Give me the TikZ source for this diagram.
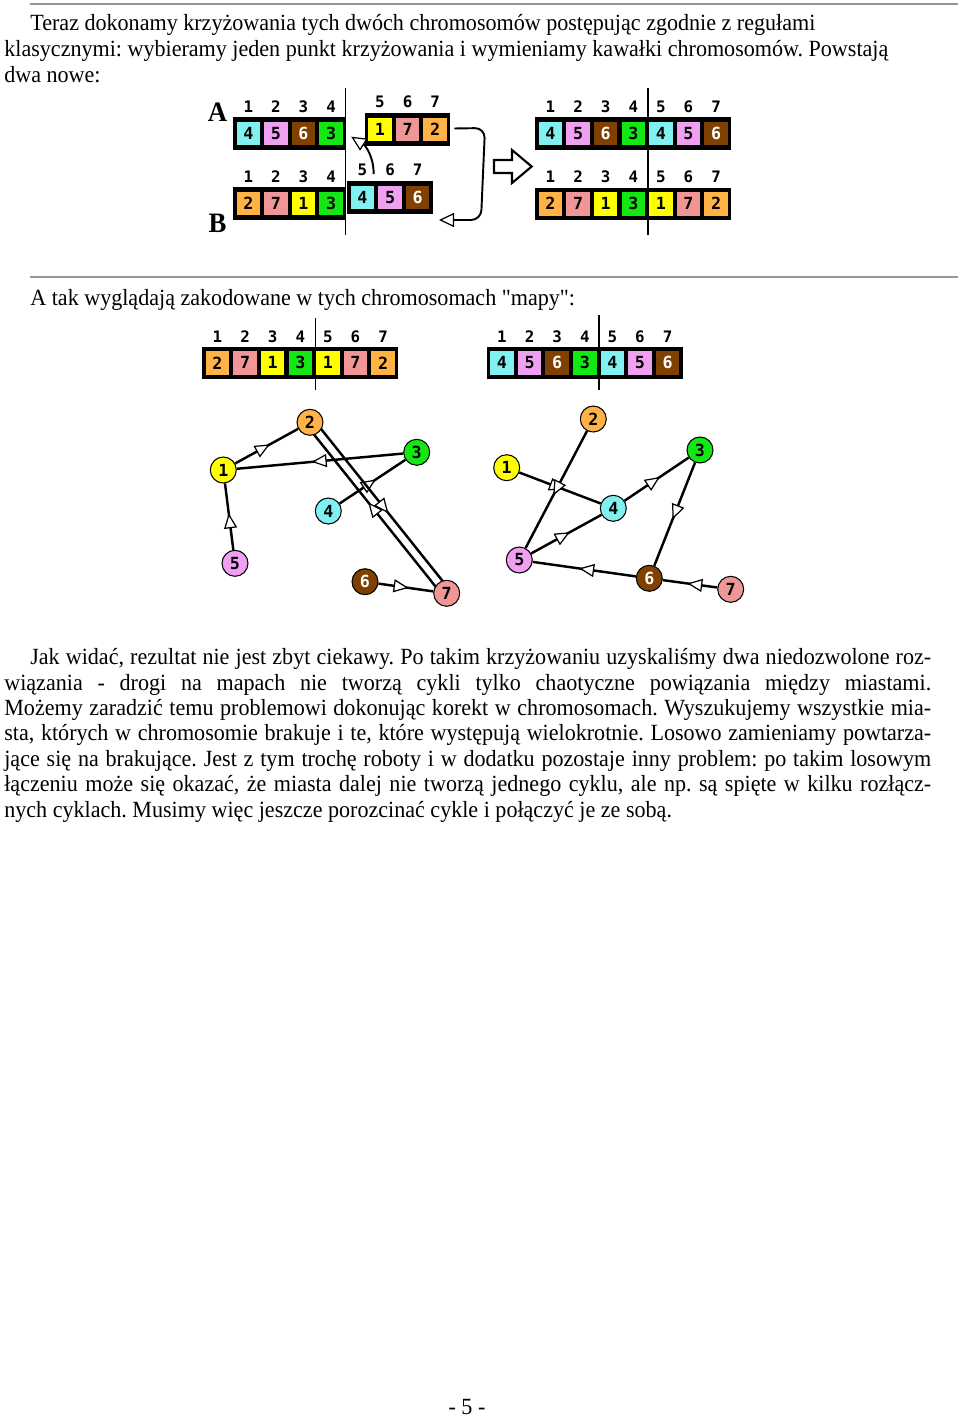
\documentclass[tikz,border=0pt]{standalone}
\usepackage{fontspec}
\setmainfont{Liberation Serif}[Ligatures=TeXOff, FakeStretch=0.952]
\newfontfamily\genefont{DejaVu Sans Mono}
\usetikzlibrary{arrows.meta,decorations.markings,backgrounds,calc}
\frenchspacing

\definecolor{c1}{RGB}{255,255,0}
\definecolor{c2}{RGB}{255,178,70}
\definecolor{c3}{RGB}{20,232,20}
\definecolor{c4}{RGB}{128,240,240}
\definecolor{c5}{RGB}{240,160,240}
\definecolor{c6}{RGB}{128,64,0}
\definecolor{c7}{RGB}{240,150,150}
\colorlet{t1}{black}
\colorlet{t2}{black}
\colorlet{t3}{black}
\colorlet{t4}{black}
\colorlet{t5}{black}
\colorlet{t6}{white}
\colorlet{t7}{black}
\definecolor{rulegray}{RGB}{150,150,150}

\begin{document}
\begin{tikzpicture}[
x=0.02cm, y=-0.02cm,
every node/.style={inner sep=0pt},
txt/.style={font=\fontsize{13.2pt}{14.5pt}\selectfont, anchor=base west},
rule/.style={draw=rulegray, line width=1.7pt},
chbox/.style={fill=black},
cell/.style={minimum size=0.47cm, fill=c#1, text=t#1,
    font=\genefont\bfseries\fontsize{9.5pt}{9.5pt}\selectfont},
idx/.style={font=\genefont\bfseries\fontsize{9pt}{9pt}\selectfont},
cut/.style={draw, line width=0.6pt},
letter/.style={font=\bfseries\fontsize{16pt}{16pt}\selectfont},
swap/.style={draw, line width=1.1pt,
    arrows={-Triangle[fill=white, line width=0.7pt, length=0.3cm, width=0.28cm]}},
bigarrow/.style={draw, fill=white, line width=1.2pt, line join=miter},
city/.style={circle, draw, line width=0.6pt, minimum size=0.52cm, fill=c#1, text=t#1,
    font=\genefont\bfseries\fontsize{9.5pt}{9.5pt}\selectfont},
road/.style={draw, line width=1.4pt, postaction={decorate},
    decoration={markings, mark=at position 0.55 with
    {\arrow{Triangle[fill=white, line width=0.7pt, length=0.3cm, width=0.26cm]}}}}
]
\useasboundingbox (0,0) rectangle (960,1417);

% =====================================================
% Text
% =====================================================

\draw[rule] (30,4) -- (958,4);

\node[txt] (par1a) at (30,30) {Teraz dokonamy krzyżowania tych dwóch chromosomów postępując zgodnie z regułami};
\node[txt] (par1b) at (4,56) {klasycznymi: wybieramy jeden punkt krzyżowania i wymieniamy kawałki chromosomów. Powstają};
\node[txt] (par1c) at (4,82) {dwa nowe:};

\draw[rule] (30,277) -- (958,277);

\node[txt] (par2) at (30,305) {A tak wyglądają zakodowane w tych chromosomach "mapy":};

\node[txt] (par3a) at (30,664) {\makebox[18.02cm][s]{Jak widać, rezultat nie jest zbyt ciekawy. Po takim krzyżowaniu uzyskaliśmy dwa niedozwolone roz-}};
\node[txt] (par3b) at (4,690) {\makebox[18.54cm][s]{wiązania - drogi na mapach nie tworzą cykli tylko chaotyczne powiązania między miastami.}};
\node[txt] (par3c) at (4,715) {\makebox[18.54cm][s]{Możemy zaradzić temu problemowi dokonując korekt w chromosomach. Wyszukujemy wszystkie mia-}};
\node[txt] (par3d) at (4,740) {\makebox[18.54cm][s]{sta, których w chromosomie brakuje i te, które występują wielokrotnie. Losowo zamieniamy powtarza-}};
\node[txt] (par3e) at (4,766) {\makebox[18.54cm][s]{jące się na brakujące. Jest z tym trochę roboty i w dodatku pozostaje inny problem: po takim losowym}};
\node[txt] (par3f) at (4,791) {\makebox[18.54cm][s]{łączeniu może się okazać, że miasta dalej nie tworzą jednego cyklu, ale np. są spięte w kilku rozłącz-}};
\node[txt] (par3g) at (4,817) {nych cyklach. Musimy więc jeszcze porozcinać cykle i połączyć je ze sobą.};

\node[txt, anchor=base] (pagenum) at (467,1414) {- 5 -};

% =====================================================
% Crossover
% =====================================================

\node[letter] (labA) at (217.5,112.5) {A};
\node[letter] (labB) at (217.5,223.5) {B};

% parent A
\fill[chbox] (233,117.4) rectangle (346.3,150);
\foreach \v [count=\i] in {4,5,6,3}
  \node[cell=\v] (A\i) at ({248.3+(\i-1)*27.6},133.7) {\v};
\foreach \i in {1,...,4}
  \node[idx] (Ai\i) at ({248.3+(\i-1)*27.6},106.7) {\i};

\fill[chbox] (364.8,113.2) rectangle (450.4,145.8);
\foreach \v [count=\i from 5] in {1,7,2}
  \node[cell=\v] (A\i) at ({380+(\i-5)*27.6},129.5) {\v};
\foreach \i in {5,6,7}
  \node[idx] (Ai\i) at ({380+(\i-5)*27.6},101.7) {\i};

% parent B
\fill[chbox] (233,187) rectangle (346.3,219.6);
\foreach \v [count=\i] in {2,7,1,3}
  \node[cell=\v] (B\i) at ({248.3+(\i-1)*27.6},203.3) {\v};
\foreach \i in {1,...,4}
  \node[idx] (Bi\i) at ({248.3+(\i-1)*27.6},176.7) {\i};

\fill[chbox] (347.3,181.2) rectangle (433,213.8);
\foreach \v [count=\i from 5] in {4,5,6}
  \node[cell=\v] (B\i) at ({362.5+(\i-5)*27.6},197.5) {\v};
\foreach \i in {5,6,7}
  \node[idx] (Bi\i) at ({362.5+(\i-5)*27.6},170) {\i};

\draw[cut] (345.7,88) -- (345.7,235);

% swapping the tails
\coordinate (tailend) at (439,220);
\draw[swap] ($(Bi5.east)+(6,4)$) .. controls (374,158) and (366,146) .. ($(A4.east)+(8,3)$);
\draw[swap, rounded corners=0.2cm] ($(A7.east)+(7,-1)$) -- (485,128) -- (481,220) -- (tailend);

% big arrow
\draw[bigarrow] (494,160) -- (512,160) -- (512,150) -- (531.7,166.5)
  -- (512,183) -- (512,173) -- (494,173) -- cycle;

% children
\fill[chbox] (535.3,117.4) rectangle (731.4,150);
\foreach \v [count=\i] in {4,5,6,3,4,5,6}
  \node[cell=\v] (X\i) at ({550.5+(\i-1)*27.6},133.7) {\v};
\foreach \i in {1,...,7}
  \node[idx] (Xi\i) at ({550.5+(\i-1)*27.6},106.7) {\i};

\fill[chbox] (535.3,187.5) rectangle (731.4,220.1);
\foreach \v [count=\i] in {2,7,1,3,1,7,2}
  \node[cell=\v] (Y\i) at ({550.5+(\i-1)*27.6},203.8) {\v};
\foreach \i in {1,...,7}
  \node[idx] (Yi\i) at ({550.5+(\i-1)*27.6},177) {\i};

\draw[cut] (648,88) -- (648,235);

% =====================================================
% Maps
% =====================================================

\fill[chbox] (202.3,346.5) rectangle (398.4,379.1);
\foreach \v [count=\i] in {2,7,1,3,1,7,2}
  \node[cell=\v] (mY\i) at ({217.5+(\i-1)*27.6},362.8) {\v};
\foreach \i in {1,...,7}
  \node[idx] (mYi\i) at ({217.5+(\i-1)*27.6},336.7) {\i};
\draw[cut] (315.5,318) -- (315.5,390);

\fill[chbox] (486.8,346.5) rectangle (682.9,379.1);
\foreach \v [count=\i] in {4,5,6,3,4,5,6}
  \node[cell=\v] (mX\i) at ({502+(\i-1)*27.6},362.8) {\v};
\foreach \i in {1,...,7}
  \node[idx] (mXi\i) at ({502+(\i-1)*27.6},336.7) {\i};
\draw[cut] (599,315) -- (599,390);

% cities, left map
\node[city=1] (L1) at (223.3,470) {1};
\node[city=2] (L2) at (310,422.3) {2};
\node[city=3] (L3) at (416.7,452.3) {3};
\node[city=4] (L4) at (328.3,511) {4};
\node[city=5] (L5) at (235,563.3) {5};
\node[city=6] (L6) at (365,581.7) {6};
\node[city=7] (L7) at (446.7,593.3) {7};

% cities, right map
\node[city=1] (R1) at (506.7,467.7) {1};
\node[city=2] (R2) at (593.3,419) {2};
\node[city=3] (R3) at (700,450) {3};
\node[city=4] (R4) at (613.3,508.3) {4};
\node[city=5] (R5) at (519.3,560) {5};
\node[city=6] (R6) at (649.3,578.3) {6};
\node[city=7] (R7) at (730.7,589.3) {7};

\begin{scope}[on background layer]
\fill[white] (0,0) rectangle (960,1417);

% roads, left map
\draw[road] (L1) -- (L2);
\draw[road] (L3) -- (L1);
\draw[road] (L4) -- (L3);
\draw[road] (L5) -- (L1);
\draw[road] (L6) -- (L7);
\draw[road] ($(L2.center)+(3.5,-2.8)$) -- ($(L7.center)+(3.5,-2.8)$);
\draw[road] ($(L7.center)+(-3.5,2.8)$) -- ($(L2.center)+(-3.5,2.8)$);

% roads, right map
\draw[road] (R1) -- (R4);
\draw[road] (R2) -- (R5);
\draw[road] (R3) -- (R6);
\draw[road] (R4) -- (R3);
\draw[road] (R5) -- (R4);
\draw[road] (R6) -- (R5);
\draw[road] (R7) -- (R6);
\end{scope}

\end{tikzpicture}
\end{document}
